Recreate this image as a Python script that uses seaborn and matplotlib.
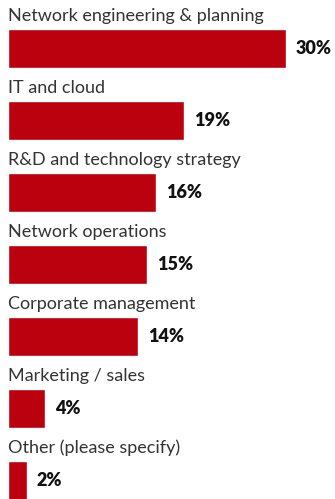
import matplotlib
matplotlib.use("Agg")
import matplotlib.pyplot as plt
import seaborn as sns
import pandas as pd

categories = [
    "Network engineering & planning",
    "IT and cloud",
    "R&D and technology strategy",
    "Network operations",
    "Corporate management",
    "Marketing / sales",
    "Other (please specify)",
]
values = [30, 19, 16, 15, 14, 4, 2]
value_labels = ["30%", "19%", "16%", "15%", "14%", "4%", "2%"]

df = pd.DataFrame({"category": categories, "value": values})

sns.set_theme(style="white")
plt.rcParams["font.family"] = ["Lato", "DejaVu Sans"]

fig = plt.figure(figsize=(3.35, 4.99), dpi=100)
ax = fig.add_axes([0, 0, 1, 1])

sns.barplot(data=df, x="value", y="category", orient="h", color="#bb000e",
            saturation=1, width=0.53, ax=ax)

px = 278 / 30  # pixels per percentage point
ax.set_xlim(-8 / px, (335 - 8) / px)
ax.set_ylim((499 - 48.5) / 72, -48.5 / 72)

for i, (cat, v, lab) in enumerate(zip(categories, values, value_labels)):
    ax.text(0, i - 27.5 / 72, cat, ha="left", va="baseline",
            fontsize=13, color="#333333")
    ax.text(v + 10 / px, i, lab, ha="left", va="center",
            fontsize=13, fontweight="heavy", color="#111111")

ax.set_axis_off()
fig.savefig("out.png", dpi=100)
